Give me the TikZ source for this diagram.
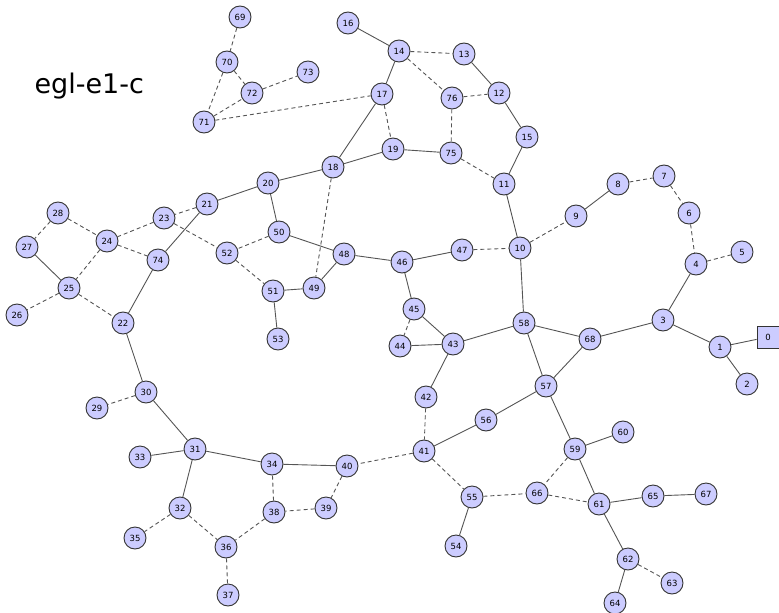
\documentclass[tikz,border=0pt]{standalone}
\usepackage{fontspec}
\setmainfont{DejaVu Sans}
\definecolor{nodefill}{HTML}{CCCCFF}
\definecolor{nodeline}{HTML}{333333}
\definecolor{edgeline}{HTML}{555555}
\tikzset{
  vert/.style={circle, draw=nodeline, fill=nodefill, line width=0.9pt,
    minimum size=22pt, inner sep=0pt, font=\fontsize{8.5}{8.5}\selectfont},
  rootvert/.style={rectangle, draw=nodeline, fill=nodefill, line width=0.9pt,
    minimum size=22pt, inner sep=0pt, font=\fontsize{8.5}{8.5}\selectfont},
  sl/.style={draw=edgeline, line width=0.9pt},
  dl/.style={draw=edgeline, line width=0.9pt, dash pattern=on 4pt off 3pt},
}
\begin{document}
\begin{tikzpicture}[x=1pt, y=-1pt]
\useasboundingbox (0,0) rectangle (779,613);
\clip (0,0) rectangle (779,613);
\node[anchor=base west, font=\fontsize{27}{27}\selectfont] (title) at (31,93) {egl-e1-c};
% vertices
\foreach \n/\x/\y in {
 1/720/347, 2/747/384, 3/663/320, 4/696/264, 5/742/252, 6/689/213, 7/664/176,
 8/618/184, 9/576/216, 10/520/248, 11/504/184, 12/499/93, 13/464/54, 14/399/51,
 15/527/137, 16/348/23, 17/382/94, 18/333/167, 19/393/149, 20/268/183,
 21/207/204, 22/123/323, 23/164/218, 24/107/241, 25/69/288, 26/17/315,
 27/27/247, 28/58/213, 29/97/408, 30/146/392, 31/195/449, 32/180/508,
 33/140/457, 34/272/464, 35/135/538, 36/226/547, 37/228/595, 38/274/512,
 39/326/508, 40/347/466, 41/424/451, 42/426/397, 43/453/344, 44/400/346,
 45/414/309, 46/402/262, 47/462/250, 48/344/254, 49/314/288, 50/279/232,
 51/273/291, 52/227/253, 53/278/339, 54/456/546, 55/472/497, 56/486/420,
 57/546/386, 58/524/323, 59/575/449, 60/623/432, 61/599/504, 62/628/559,
 63/672/583, 64/615/603, 65/653/496, 66/537/493, 67/706/494, 68/590/339,
 69/240/17, 70/227/62, 71/204/122, 72/252/93, 73/308/72, 74/158/260,
 75/451/153, 76/452/98}
 {\node[vert] (n\n) at (\x,\y) {\n};}
\node[rootvert] (n0) at (768,337) {0};
% solid edges
\foreach \a/\b in {16/14, 14/17, 13/12, 12/15, 15/11, 17/18, 18/19, 19/75,
 18/20, 20/21, 20/50, 21/74, 27/25, 74/22, 22/30, 50/48, 51/49, 51/53,
 49/48, 48/46, 46/47, 46/45, 45/43, 44/43, 43/58, 43/42, 11/10, 9/8, 4/3,
 3/68, 3/1, 1/0, 1/2, 10/58, 58/68, 58/57, 68/57, 57/56, 56/41, 57/59,
 59/60, 59/61, 55/54, 40/34, 31/34, 31/33, 31/32, 30/31, 61/65, 65/67,
 61/62, 62/64}
 {\path[sl] (n\a) -- (n\b);}
% dashed edges
\foreach \a/\b in {69/70, 70/72, 70/71, 71/72, 72/73, 71/17, 14/13, 14/76,
 76/12, 76/75, 17/19, 75/11, 18/49, 21/23, 23/24, 23/52, 28/24, 28/27,
 24/74, 24/25, 25/26, 25/22, 50/52, 52/51, 47/10, 45/44, 42/41, 10/9, 8/7,
 7/6, 6/4, 4/5, 59/66, 66/61, 55/66, 41/55, 41/40, 40/39, 39/38, 38/34,
 38/36, 30/29, 32/35, 32/36, 36/37, 62/63}
 {\path[dl] (n\a) -- (n\b);}
\end{tikzpicture}
\end{document}
